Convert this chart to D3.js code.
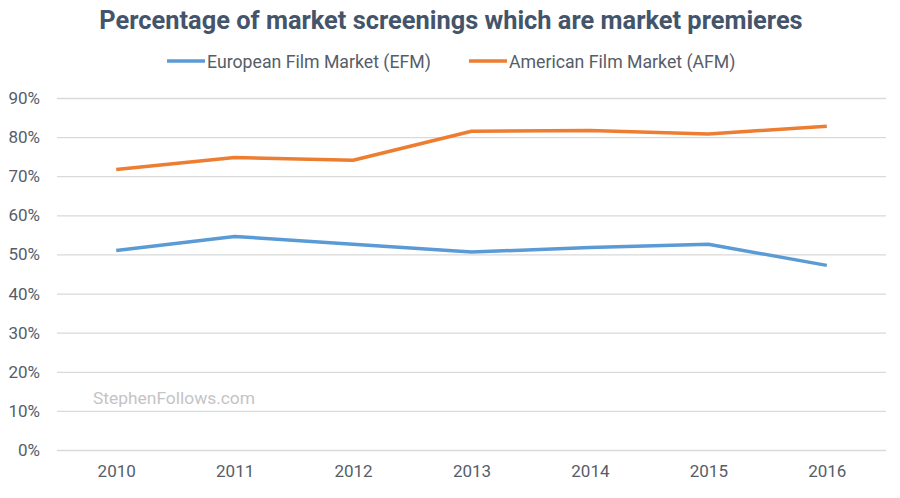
<!DOCTYPE html>
<html><head><meta charset="utf-8">
<script src="https://cdn.jsdelivr.net/npm/d3@7"></script>
<style>body{margin:0;background:#fff;font-family:Roboto,sans-serif}</style>
</head><body><svg id="c" width="900" height="498"></svg>
<script>
const years = ["2010","2011","2012","2013","2014","2015","2016"];
const efm = [51.0, 54.6, 52.6, 50.6, 51.8, 52.6, 47.2];
const afm = [71.7, 74.8, 74.1, 81.5, 81.7, 80.8, 82.8];
const yTicks = [0,10,20,30,40,50,60,70,80,90];
const seriesNames = ["European Film Market (EFM)", "American Film Market (AFM)"];
const colors = ["#5b9bd5", "#ed7d31"];

const svg = d3.select("#c");
const x = d3.scalePoint().domain(years).range([57, 886]).padding(0.5);
const y = d3.scaleLinear().domain([0, 90]).range([450, 98]);

svg.append("text").attr("x", 451).attr("y", 29).attr("text-anchor", "middle")
  .attr("font-size", 25.4).attr("font-weight", "bold").attr("fill", "#44546a")
  .text("Percentage of market screenings which are market premieres");

const yAxis = d3.axisLeft(y).tickValues(yTicks).tickSize(-(886 - 57)).tickFormat(d => d + "%");
const gy = svg.append("g").attr("transform", "translate(57,0)").call(yAxis);
gy.select(".domain").remove();
gy.selectAll(".tick line").attr("stroke", "#d9d9d9").attr("stroke-width", 1.3);
gy.selectAll(".tick text").attr("x", -17).attr("font-size", 17).attr("fill", "#565d69")
  .attr("font-family", "Roboto");

const xAxis = d3.axisBottom(x).tickSize(0);
const gx = svg.append("g").attr("transform", "translate(0,450)").call(xAxis);
gx.select(".domain").remove();
gx.selectAll(".tick text").attr("dy", 0).attr("y", 27).attr("font-size", 17).attr("fill", "#565d69")
  .attr("font-family", "Roboto");

svg.append("text").attr("x", 93).attr("y", 404).attr("font-size", 17.4).attr("fill", "#c4c4c4")
  .text("StephenFollows.com");

const line = d3.line().x((d, i) => x(years[i])).y(d => y(d));
[efm, afm].forEach((s, i) => {
  svg.append("path").datum(s).attr("d", line).attr("fill", "none")
    .attr("stroke", colors[i]).attr("stroke-width", 3.5).attr("stroke-linejoin", "round");
});

const legX = [167, 469];
seriesNames.forEach((n, i) => {
  svg.append("line").attr("x1", legX[i]).attr("x2", legX[i] + 38).attr("y1", 61).attr("y2", 61)
    .attr("stroke", colors[i]).attr("stroke-width", 3.5);
  svg.append("text").attr("x", legX[i] + 40).attr("y", 68).attr("font-size", 17.7).attr("fill", "#565d69")
    .text(n);
});
</script></body></html>
